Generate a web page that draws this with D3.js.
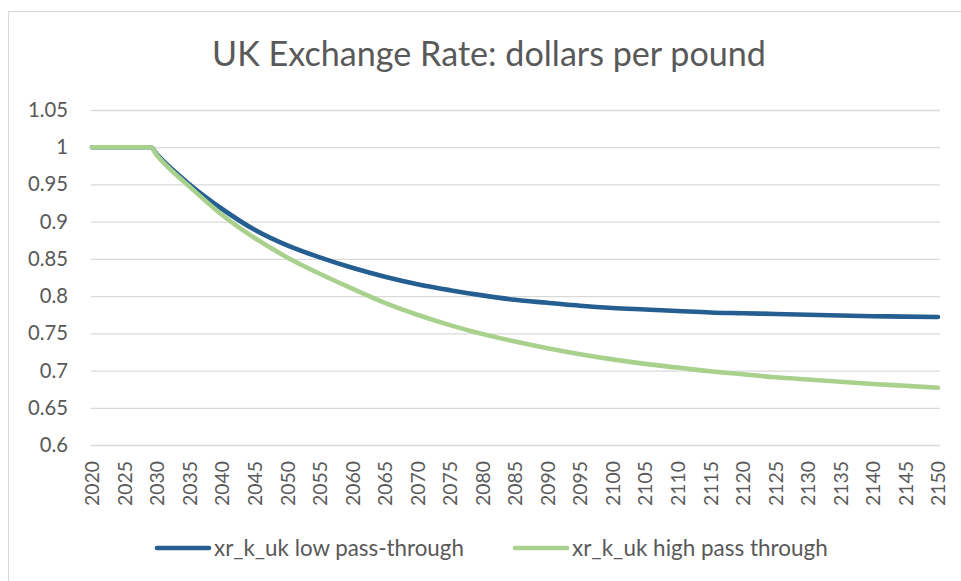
<!DOCTYPE html>
<html><head><meta charset="utf-8">
<script src="https://cdn.jsdelivr.net/npm/d3@7"></script>
<style>body{margin:0;background:#fff}svg{display:block}text{font-family:Lato,"Open Sans",sans-serif;fill:#595959}</style>
</head><body>
<svg id="c" width="961" height="581"></svg>
<script>
const years = [2020,2025,2029,2030,2035,2040,2045,2050,2055,2060,2065,2070,2075,2080,2085,2090,2095,2100,2105,2110,2115,2120,2125,2130,2135,2140,2145,2150];
const lowPass = [1,1,1,0.990,0.950,0.917,0.889,0.868,0.852,0.838,0.826,0.816,0.808,0.801,0.795,0.791,0.787,0.784,0.782,0.780,0.778,0.777,0.776,0.775,0.774,0.773,0.7725,0.772];
const highPass = [1,1,1,0.989,0.947,0.909,0.878,0.852,0.830,0.810,0.791,0.775,0.761,0.749,0.739,0.730,0.722,0.715,0.709,0.704,0.699,0.695,0.691,0.688,0.685,0.682,0.6795,0.677];
const xTicks = d3.range(2020, 2151, 5);
const yTicks = [0.6,0.65,0.7,0.75,0.8,0.85,0.9,0.95,1,1.05];
const seriesNames = ["xr_k_uk low pass-through","xr_k_uk high pass through"];
const colors = ["#255E91","#A9D18E"];
const title = "UK Exchange Rate: dollars per pound";

const svg = d3.select("#c");
svg.append("rect").attr("x",8.5).attr("y",11.5).attr("width",980).attr("height",600)
  .attr("fill","none").attr("stroke","#D9D9D9").attr("stroke-width",1);

const x = d3.scaleLinear().domain([2020,2150]).range([92,938]);
const y = d3.scaleLinear().domain([0.6,1.05]).range([445,110]);

function fitSize(sel, w){
  let fs = +sel.attr("font-size");
  const l = sel.node().getComputedTextLength();
  return fs*w/l;
}

// title
const t = svg.append("text").attr("x",489).attr("y",66).attr("text-anchor","middle").attr("font-size",29).text(title);
t.attr("font-size", fitSize(t,554));

// grid
const gy = svg.append("g").attr("transform","translate(91,0)")
  .call(d3.axisLeft(y).tickValues(yTicks).tickSize(-849).tickFormat(d3.format("")));
gy.select(".domain").remove();
gy.selectAll(".tick line").attr("stroke","#D9D9D9").attr("stroke-width",1.3);
gy.selectAll(".tick text").attr("x",-23).attr("font-size",17).attr("fill","#595959").style("font-family","Lato");
const yl = gy.selectAll(".tick text").filter(d=>d===1.05);
const yfs = fitSize(yl, 40);
gy.selectAll(".tick text").attr("font-size", yfs);

// x labels
const gx = svg.append("g").attr("transform","translate(0,445)")
  .call(d3.axisBottom(x).tickValues(xTicks).tickSize(0).tickFormat(d3.format("d")));
gx.select(".domain").remove();
gx.selectAll(".tick text").attr("transform","rotate(-90)").attr("text-anchor","end")
  .attr("x",-16).attr("y",0).attr("dy","0.35em").attr("font-size",17).attr("fill","#595959").style("font-family","Lato");
const xl = gx.selectAll(".tick text").filter(d=>d===2020);
gx.selectAll(".tick text").attr("font-size", fitSize(xl, 45));

// lines
const data = [lowPass, highPass];
const line = d3.line().x((d,i)=>x(years[i])).y(d=>y(d)).curve(d3.curveMonotoneX);
data.forEach((s,k)=>{
  svg.append("path").datum(s).attr("d",line).attr("fill","none").attr("stroke",colors[k])
    .attr("stroke-width",4.6).attr("stroke-linecap","round").attr("stroke-linejoin","round");
});

// legend
const legX = [157,515], legW=[250,256];
seriesNames.forEach((n,k)=>{
  svg.append("line").attr("x1",legX[k]).attr("x2",legX[k]+52).attr("y1",548).attr("y2",548)
    .attr("stroke",colors[k]).attr("stroke-width",4.6).attr("stroke-linecap","round");
  const tt = svg.append("text").attr("x",legX[k]+57).attr("y",548).attr("dy","0.35em").attr("font-size",18).text(n);
  tt.attr("font-size", fitSize(tt, legW[k]));
});
</script>
</body></html>
